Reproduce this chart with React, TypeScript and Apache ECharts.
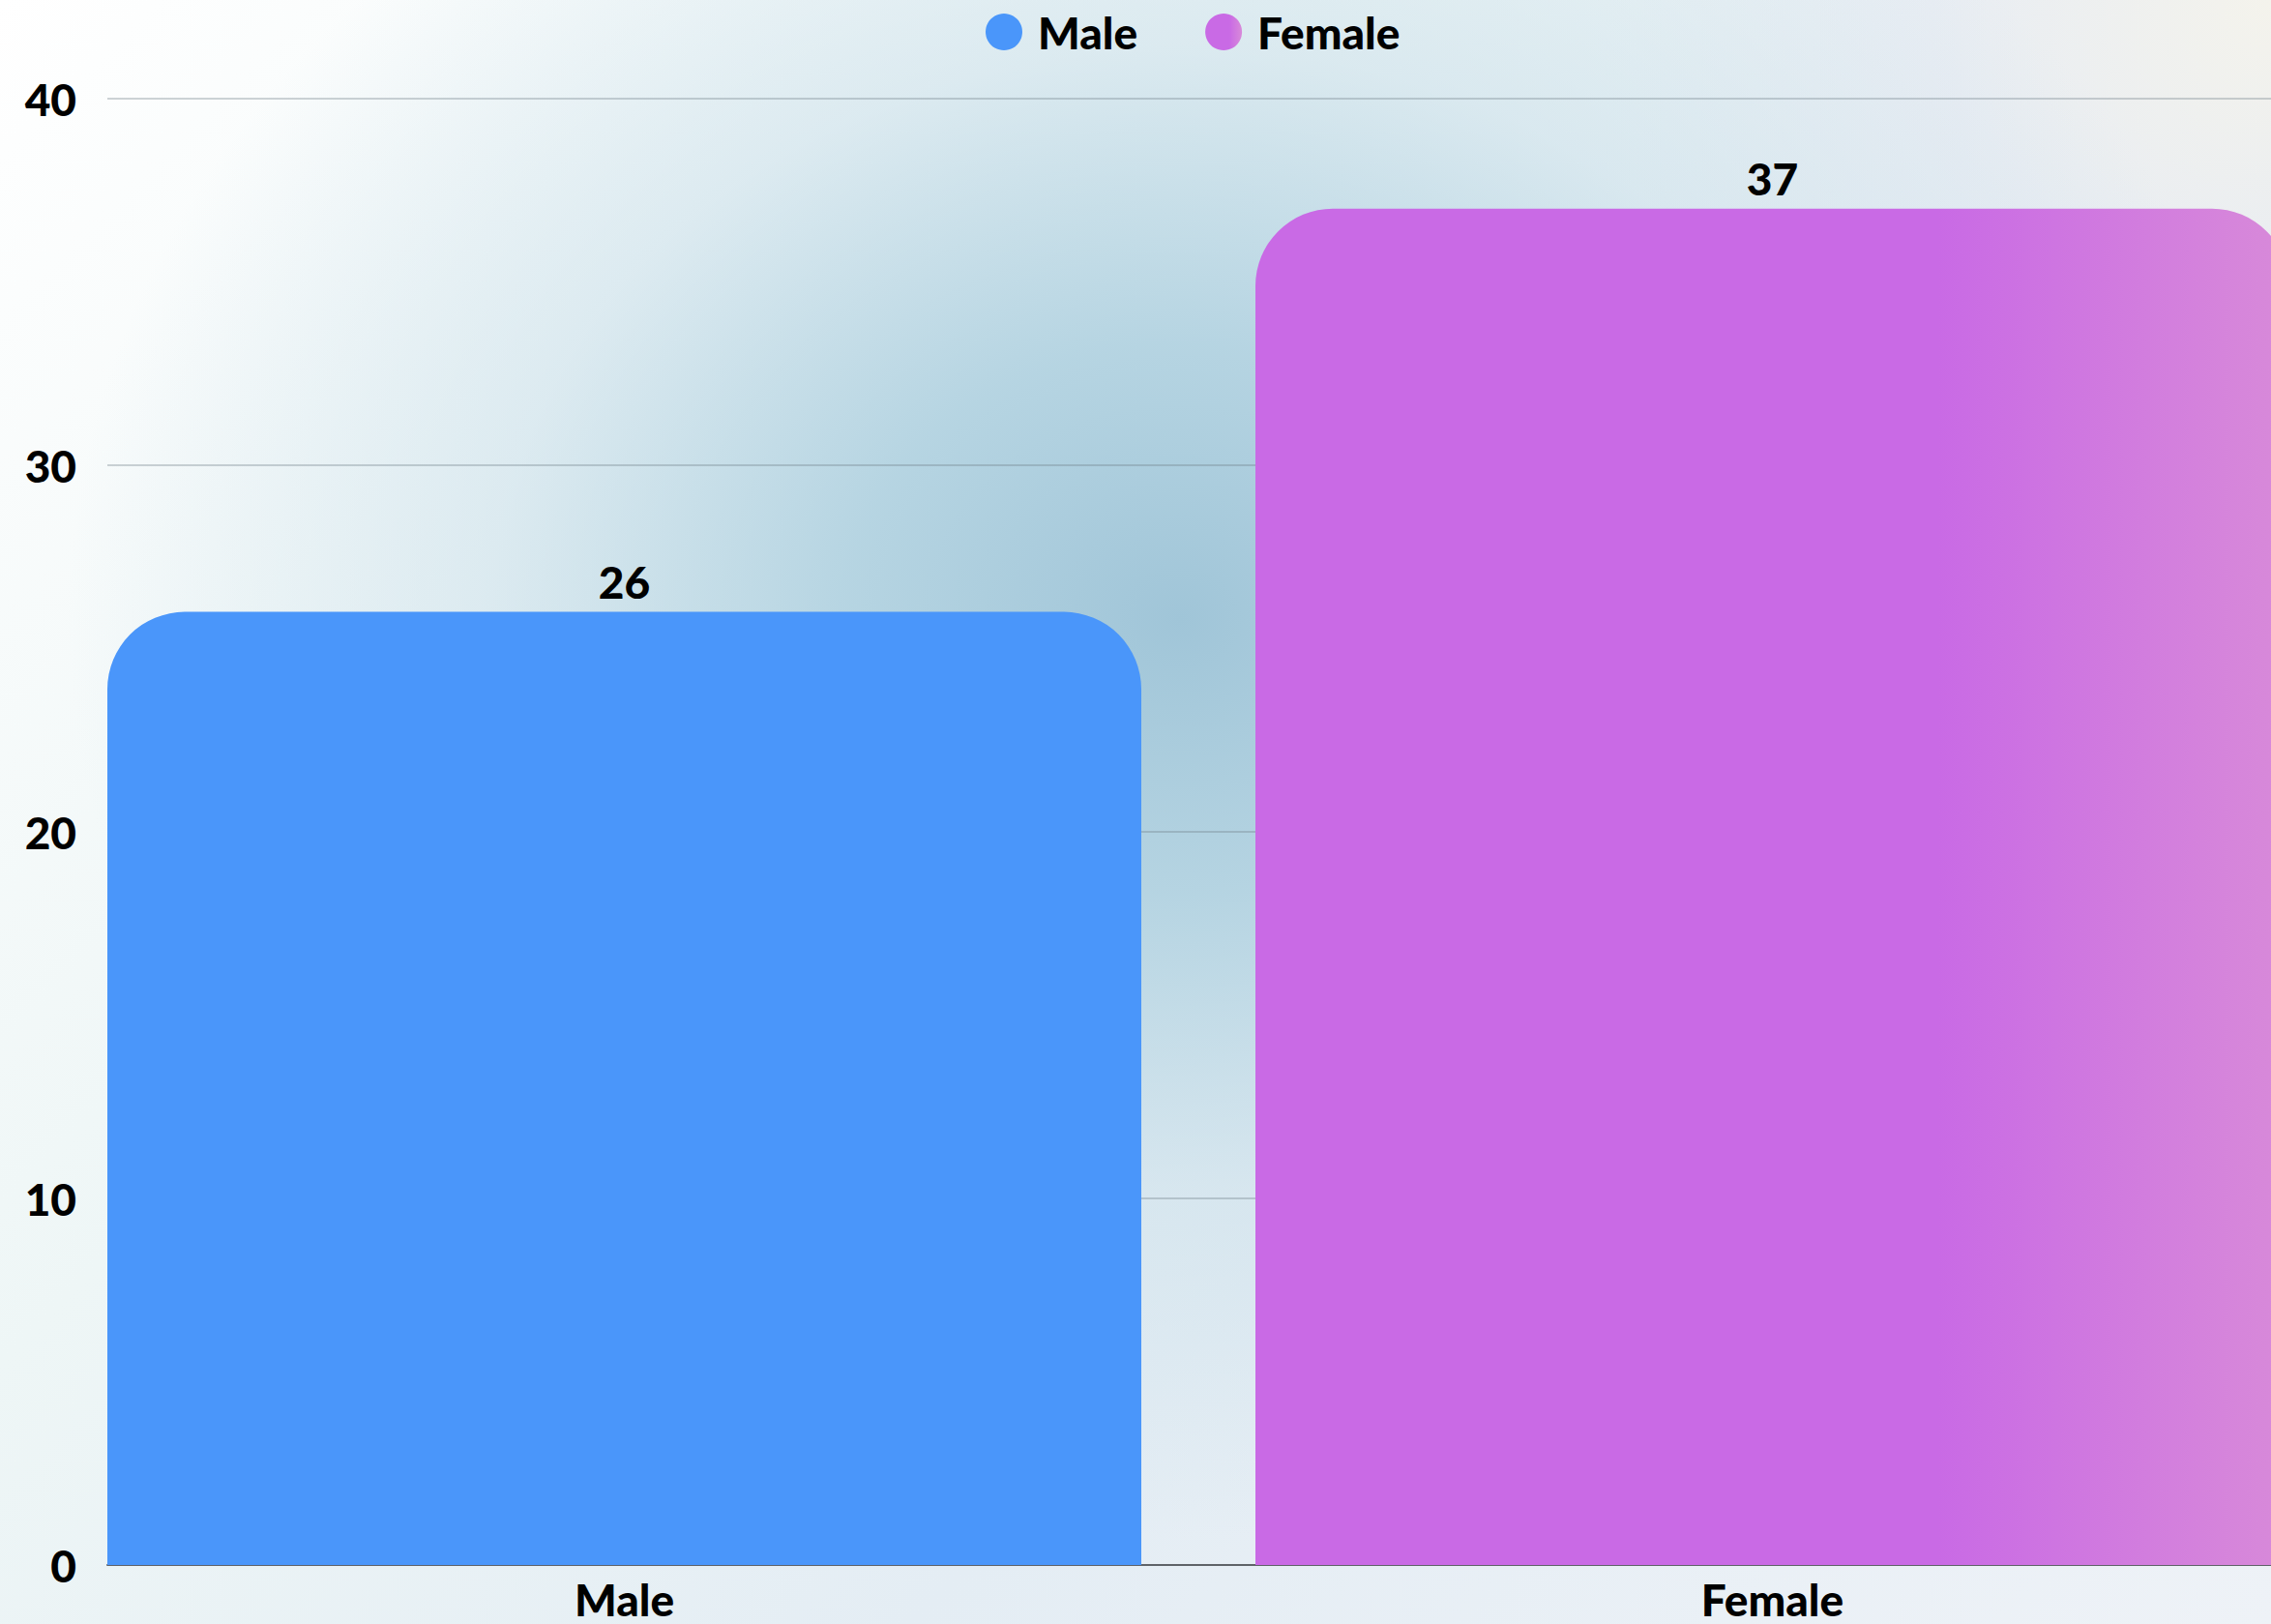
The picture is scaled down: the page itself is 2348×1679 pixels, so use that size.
import React, { useEffect, useRef } from "react";
import * as echarts from "echarts";

const categories = ["Male", "Female"];
const seriesNames = ["Male", "Female"];
const maleData: (number | string)[] = [26, "-"];
const femaleData: (number | string)[] = ["-", 37];
const yMin = 0;
const yMax = 40;
const yInterval = 10;

const MALE_COLOR = "#4a96fa";
const FEMALE_COLOR = "#c96ae5";
const FONT = "Lato, 'Noto Sans', sans-serif";

const CHART_W = 2450;

export default function App() {
  const ref = useRef<HTMLDivElement>(null);

  useEffect(() => {
    document.body.style.margin = "0";
    if (!ref.current) return;
    const chart = echarts.init(ref.current, undefined, { renderer: "svg" });
    const labelStyle = {
      fontFamily: FONT,
      fontSize: 46,
      fontWeight: 900 as const,
      color: "#000",
    };
    chart.setOption({
      animation: false,
      backgroundColor: "transparent",
      legend: {
        data: seriesNames,
        left: 1014,
        top: 5,
        icon: "circle",
        itemWidth: 38,
        itemHeight: 38,
        itemGap: 70,
        textStyle: { ...labelStyle, padding: [0, 0, 0, 11] },
      },
      grid: [
        { left: 52, right: CHART_W - 2426, top: 102, bottom: 61, containLabel: false },
        { left: 111, right: CHART_W - 2367, top: 102, bottom: 61, containLabel: false },
      ],
      xAxis: [
        {
          type: "category",
          gridIndex: 0,
          data: categories,
          axisLine: { show: false },
          axisTick: { show: false },
          axisLabel: { ...labelStyle, margin: 12 },
          splitLine: { show: false },
        },
        {
          type: "category",
          gridIndex: 1,
          data: categories,
          axisLine: { show: true, lineStyle: { color: "#5f6368", width: 2 } },
          axisTick: { show: false },
          axisLabel: { show: false },
          splitLine: { show: false },
        },
      ],
      yAxis: [
        {
          type: "value",
          gridIndex: 0,
          min: yMin,
          max: yMax,
          interval: yInterval,
          show: false,
          splitLine: { show: false },
        },
        {
          type: "value",
          gridIndex: 1,
          min: yMin,
          max: yMax,
          interval: yInterval,
          axisLine: { show: false },
          axisTick: { show: false },
          axisLabel: { ...labelStyle, margin: 32 },
          splitLine: {
            show: true,
            lineStyle: { color: "rgba(110,125,135,0.45)", width: 1.5 },
          },
        },
      ],
      series: [
        {
          name: seriesNames[0],
          type: "bar",
          xAxisIndex: 0,
          yAxisIndex: 0,
          data: maleData,
          barWidth: 1069,
          barGap: "-100%",
          itemStyle: { color: MALE_COLOR, borderRadius: [80, 80, 0, 0] },
          label: {
            show: true,
            position: "top",
            distance: 8,
            ...labelStyle,
          },
        },
        {
          name: seriesNames[1],
          type: "bar",
          xAxisIndex: 0,
          yAxisIndex: 0,
          data: femaleData,
          barWidth: 1069,
          barGap: "-100%",
          itemStyle: {
            color: new echarts.graphic.LinearGradient(0, 0, 1, 0, [
              { offset: 0, color: FEMALE_COLOR },
              { offset: 0.66, color: FEMALE_COLOR },
              { offset: 1, color: "#d88ad9" },
            ]),
            borderRadius: [80, 80, 0, 0],
          },
          label: {
            show: true,
            position: "top",
            distance: 8,
            ...labelStyle,
          },
        },
      ],
    });
    return () => chart.dispose();
  }, []);

  return (
    <div
      style={{
        width: 2348,
        height: 1679,
        overflow: "hidden",
        position: "relative",
        background:
          "radial-gradient(ellipse 1150px 950px at 1220px 640px, rgba(160,197,216,1) 0%, rgba(176,209,224,0.9) 30%, rgba(205,225,235,0.6) 62%, rgba(232,241,246,0) 100%)," +
          "radial-gradient(circle 700px at 100% 0%, rgba(244,243,236,1) 0%, rgba(232,234,242,0.6) 50%, rgba(232,234,242,0) 100%)," +
          "linear-gradient(135deg, #ffffff 0%, #eef6f6 35%, #e4edf4 65%, #eef2f7 100%)",
      }}
    >
      <div ref={ref} style={{ width: CHART_W, height: 1679 }} />
    </div>
  );
}
